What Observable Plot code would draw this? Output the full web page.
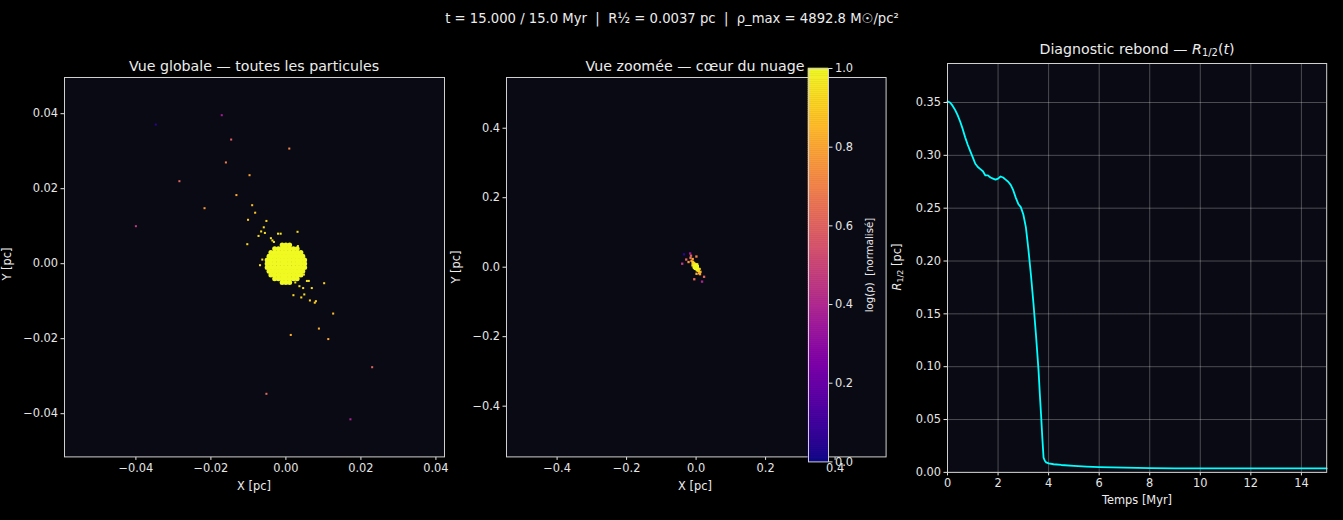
<!DOCTYPE html>
<html><head><meta charset="utf-8">
<script src="https://cdn.jsdelivr.net/npm/d3@7"></script>
<script src="https://cdn.jsdelivr.net/npm/@observablehq/plot@0.6"></script>
<style>
html,body{margin:0;padding:0;background:#000;}
#fig{position:relative;width:1343px;height:520px;background:#000;overflow:hidden;font-family:"DejaVu Sans",sans-serif;color:#ececec;}
.lbl{position:absolute;white-space:pre;transform:translate(-50%,-50%);line-height:1;}
.rot{transform:translate(-50%,-50%) rotate(-90deg);}
sub{font-size:70%;vertical-align:-0.25em;}
</style></head><body><div id="fig"></div>
<script>
// ---------- data ----------
// particles outside the dense core (x, y in pc; normalised log density)
const outX = [-0.0347,-0.0171,-0.0146,0.0009,-0.0160,-0.0284,-0.0097,-0.0132,-0.0217,-0.0400,
  -0.0090,-0.0082,-0.0101,-0.0052,-0.0059,-0.0066,-0.0056,-0.0073,-0.0021,-0.0014,
  0.0031,-0.0040,-0.0036,-0.0032,-0.0103,0.0032,-0.0063,-0.0069,0.0047,0.0048,
  0.0056,0.0061,0.0102,0.0025,0.0036,0.0046,0.0069,0.0020,0.0049,0.0041,
  0.0064,0.0077,0.0080,0.0126,0.0088,0.0013,0.0113,0.0230,-0.0052,0.0172];
const outY = [0.0371,0.0396,0.0331,0.0307,0.0270,0.0220,0.0236,0.0183,0.0148,0.0100,
  0.0156,0.0136,0.0117,0.0114,0.0097,0.0086,0.0082,0.0074,0.0080,0.0080,
  0.0085,0.0068,0.0062,0.0058,0.0052,0.0047,0.0011,-0.0004,-0.0002,-0.0029,
  -0.0046,-0.0046,-0.0052,-0.0050,-0.0060,-0.0065,-0.0065,-0.0084,-0.0082,-0.0090,
  -0.0098,-0.0104,-0.0100,-0.0133,-0.0173,-0.0190,-0.0201,-0.0276,-0.0347,-0.0415];
const outRho = [0.05,0.35,0.58,0.70,0.68,0.60,0.78,0.80,0.76,0.45,
  0.86,0.88,0.88,0.92,0.93,0.93,0.94,0.93,0.95,0.95,
  0.93,0.95,0.96,0.96,0.92,0.95,0.94,0.94,0.97,0.96,
  0.95,0.95,0.90,0.97,0.95,0.94,0.93,0.93,0.93,0.92,
  0.91,0.90,0.90,0.85,0.82,0.82,0.80,0.60,0.62,0.38];
// dense core particles (rows of y with their x positions), density = 1
const coreRowY = [0.005,0.004,0.003,0.002,0.001,0,-0.001,-0.002,-0.003,-0.004,-0.005];
const coreRowX = [
  [-0.001,0,0.001],
  [-0.003,-0.002,-0.001,0,0.001,0.002,0.003],
  [-0.004,-0.003,-0.002,-0.001,0,0.001,0.002,0.003,0.004],
  [-0.0045,-0.0035,-0.0025,-0.0015,-0.0005,0.0005,0.0015,0.0025,0.0035,0.0045],
  [-0.005,-0.004,-0.003,-0.002,-0.001,0,0.001,0.002,0.003,0.004,0.005],
  [-0.005,-0.004,-0.003,-0.002,-0.001,0,0.001,0.002,0.003,0.004,0.005],
  [-0.005,-0.004,-0.003,-0.002,-0.001,0,0.001,0.002,0.003,0.004,0.005],
  [-0.0045,-0.0035,-0.0025,-0.0015,-0.0005,0.0005,0.0015,0.0025,0.0035,0.0045],
  [-0.004,-0.003,-0.002,-0.001,0,0.001,0.002,0.003,0.004],
  [-0.003,-0.002,-0.001,0,0.001,0.002,0.003],
  [-0.001,0,0.001]
];
const coreRho = 1.0;
// half-mass radius vs time
const tMyr = [0,0.1,0.2,0.3,0.4,0.5,0.6,0.7,0.8,0.9,1.0,1.1,1.2,1.3,1.4,1.5,1.6,1.7,1.8,1.9,
  2.0,2.1,2.2,2.3,2.4,2.5,2.6,2.7,2.8,2.9,3.0,3.1,3.2,3.3,3.4,3.5,3.6,3.65,3.7,3.75,
  3.8,3.85,3.9,4.0,4.2,4.5,5.0,5.5,6.0,7.0,8.0,9.0,10,11,12,13,14,15];
const rHalf = [0.351,0.350,0.347,0.343,0.338,0.332,0.325,0.317,0.310,0.304,0.298,0.292,0.289,0.287,0.285,0.281,0.281,0.279,0.278,0.277,
  0.278,0.280,0.279,0.277,0.275,0.272,0.267,0.260,0.254,0.251,0.244,0.232,0.211,0.187,0.160,0.130,0.097,0.075,0.055,0.033,
  0.014,0.011,0.0095,0.0085,0.0077,0.0070,0.0062,0.0055,0.0050,0.0045,0.0040,0.0038,0.0037,0.0037,0.0037,0.0037,0.0037,0.0037];
// ticks
const p1Ticks = [-0.04,-0.02,0,0.02,0.04];
const p2Ticks = [-0.4,-0.2,0,0.2,0.4];
const p3XTicks = [0,2,4,6,8,10,12,14];
const p3YTicks = [0,0.05,0.10,0.15,0.20,0.25,0.30,0.35];
const cbTicks = [0,0.2,0.4,0.6,0.8,1.0];

// ---------- tables ----------
const outliers = outX.map((x,i)=>({x, y: outY[i], rho: outRho[i]})).sort((a,b)=>a.rho-b.rho);
const core = coreRowY.flatMap((y,i)=>coreRowX[i].map(x=>({x, y, rho: coreRho})));
const series = tMyr.map((t,i)=>({t, r: rHalf[i]}));

const fig = document.getElementById("fig");
const AX_BG = "#0a0a14", SPINE = "#d0d0d0";
const colorScale = {type:"linear", scheme:"plasma", domain:[0,1]};

function panel({left, top, w, h, x, y, marks, mL=60, mT=10, mR=10, mB=30}) {
  const p = Plot.plot({
    width: w + mL + mR, height: h + mT + mB,
    marginLeft: mL, marginTop: mT, marginRight: mR, marginBottom: mB,
    style: {background:"transparent", color:"#e6e6e6", fontFamily:"DejaVu Sans", fontSize:"11.4px", overflow:"visible"},
    x, y, color: colorScale,
    marks
  });
  p.style.position = "absolute";
  p.style.left = (left - mL) + "px";
  p.style.top = (top - mT) + "px";
  fig.appendChild(p);
  return p;
}
const axisOpts = (ticks, fmt) => ({ticks, tickFormat: d3.format(fmt), tickSize: 3.5, tickPadding: 3, label: null});

// Panel 1 — global view
panel({left: 64.3, top: 77.3, w: 380, h: 379.4,
  x: {domain: [-0.05904, 0.04229], ...axisOpts(p1Ticks, ".2f")},
  y: {domain: [-0.05152, 0.04965], ...axisOpts(p1Ticks, ".2f")},
  marks: [
    Plot.frame({fill: AX_BG}),
    Plot.dot(outliers, {x:"x", y:"y", fill:"rho", r:1.15, symbol:"square"}),
    Plot.dot(core, {x:"x", y:"y", fill:"rho", r:2.5}),
    Plot.frame({stroke: SPINE})
  ]});

// Panel 2 — zoomed view
panel({left: 505.7, top: 77.3, w: 379.6, h: 379.4,
  x: {domain: [-0.5456, 0.5468], ...axisOpts(p2Ticks, ".1f")},
  y: {domain: [-0.546, 0.546], ...axisOpts(p2Ticks, ".1f")},
  marks: [
    Plot.frame({fill: AX_BG}),
    Plot.dot(outliers, {x:"x", y:"y", fill:"rho", r:1.3, symbol:"square"}),
    Plot.dot(core, {x:"x", y:"y", fill:"rho", r:1.3, symbol:"square"}),
    Plot.frame({stroke: SPINE})
  ]});

// Colorbar
const cbBins = d3.range(0, 1, 0.005);
panel({left: 808.3, top: 68.3, w: 20, h: 393.4, mL: 2, mT: 2, mR: 40, mB: 2,
  x: {domain: [0, 1], axis: null},
  y: {domain: [0, 1], axis: "right", ...axisOpts(cbTicks, ".1f")},
  marks: [
    Plot.rect(cbBins, {x1: d=>0, x2: d=>1, y1: d=>d, y2: d=>d+0.005, fill: d=>d+0.0025, stroke: d=>d+0.0025, strokeWidth: 0.6}),
    Plot.frame({stroke: SPINE})
  ]});

// Panel 3 — R1/2(t)
panel({left: 947.3, top: 62.8, w: 379.2, h: 408.9,
  x: {domain: [0, 15], ...axisOpts(p3XTicks, "d")},
  y: {domain: [0, 0.3869], ...axisOpts(p3YTicks, ".2f")},
  marks: [
    Plot.frame({fill: AX_BG}),
    Plot.ruleX(p3XTicks, {stroke:"#ffffff", strokeOpacity:0.3, strokeWidth:0.9}),
    Plot.ruleY(p3YTicks, {stroke:"#ffffff", strokeOpacity:0.3, strokeWidth:0.9}),
    Plot.line(series, {x:"t", y:"r", stroke:"#00ffff", strokeWidth:1.8}),
    Plot.frame({stroke: SPINE})
  ]});

// ---------- texts ----------
function label(html, cx, cy, size, rotate=false) {
  const d = document.createElement("div");
  d.className = "lbl" + (rotate ? " rot" : "");
  d.innerHTML = html;
  d.style.left = cx + "px"; d.style.top = cy + "px"; d.style.fontSize = size + "px";
  fig.appendChild(d);
}
label("t = 15.000 / 15.0 Myr  |  R½ = 0.0037 pc  |  ρ_max = 4892.8 M☉/pc²", 672, 19, 13.2);
label("Vue globale — toutes les particules", 254, 66, 14.2);
label("Vue zoomée — cœur du nuage", 695, 66, 14.2);
label("Diagnostic rebond — <i>R</i><sub>1/2</sub>(<i>t</i>)", 1137, 50, 14.2);
label("X [pc]", 254, 487, 11.4);
label("X [pc]", 695, 487, 11.4);
label("Temps [Myr]", 1137, 501, 11.4);
label("Y [pc]", 8, 264, 11.4, true);
label("Y [pc]", 457, 267, 11.4, true);
label("<i>R</i><sub>1/2</sub> [pc]", 898, 267, 11.4, true);
label("log(ρ)  [normalisé]", 870, 265, 10.2, true);
</script></body></html>
